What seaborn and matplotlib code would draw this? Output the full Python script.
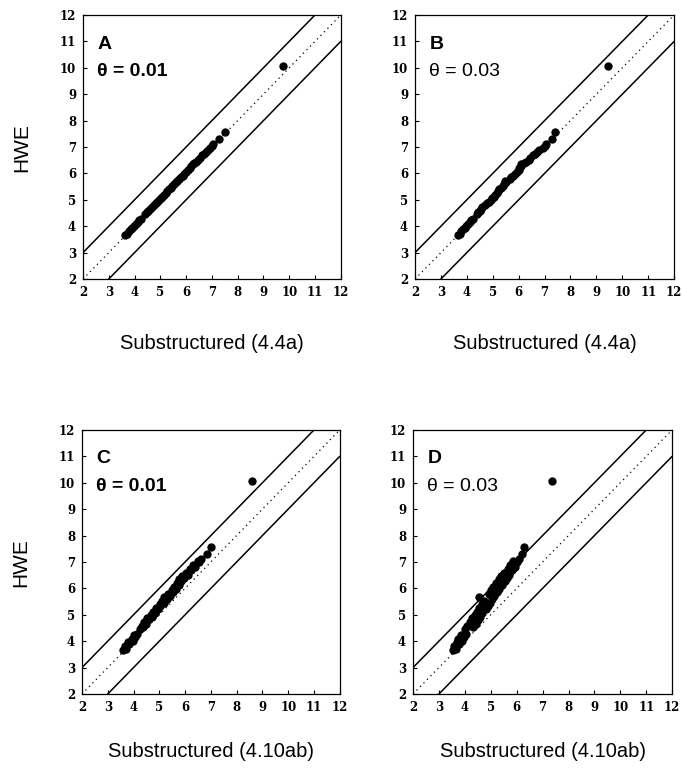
"""
HWE vs substructured estimates - four panel comparison
"""
import numpy as np
import pandas as pd
import matplotlib
matplotlib.use("Agg")
import matplotlib.pyplot as plt
import seaborn as sns

# HWE values (same markers in all four panels)
hwe = [3.65, 3.72, 3.80, 3.88, 3.95, 4.02, 4.10, 4.15, 4.22, 4.28,
       4.45, 4.52, 4.58, 4.65, 4.72, 4.80, 4.86, 4.92, 5.00, 5.06,
       5.12, 5.20, 5.26, 5.32, 5.40, 5.46, 5.52, 5.60, 5.66, 5.72,
       5.78, 5.85, 5.92, 5.98, 6.05, 6.12, 6.20, 6.28, 6.35, 6.40,
       6.45, 6.52, 6.60, 6.68, 6.75, 6.82, 6.90, 6.98, 7.05, 7.10,
       7.30, 7.55, 10.05]

# substructured estimates, one list per panel
sub_a = [3.64, 3.70, 3.77, 3.85, 3.92, 3.99, 4.07, 4.12, 4.19, 4.25,
         4.42, 4.48, 4.54, 4.61, 4.68, 4.76, 4.82, 4.88, 4.96, 5.02,
         5.08, 5.16, 5.22, 5.27, 5.35, 5.41, 5.46, 5.52, 5.60, 5.66,
         5.73, 5.80, 5.87, 5.93, 6.00, 6.07, 6.14, 6.20, 6.26, 6.32,
         6.38, 6.46, 6.54, 6.62, 6.70, 6.77, 6.85, 6.93, 7.00, 7.06,
         7.28, 7.50, 9.75]
sub_b = [3.65, 3.72, 3.78, 3.86, 3.92, 3.98, 4.05, 4.12, 4.18, 4.22,
         4.38, 4.45, 4.50, 4.56, 4.60, 4.70, 4.76, 4.85, 4.92, 4.98,
         5.05, 5.08, 5.15, 5.22, 5.25, 5.32, 5.40, 5.42, 5.52, 5.48,
         5.65, 5.72, 5.80, 5.85, 5.95, 6.00, 6.02, 6.08, 6.10, 6.20,
         6.30, 6.38, 6.45, 6.55, 6.62, 6.70, 6.80, 6.92, 7.00, 7.05,
         7.30, 7.40, 9.45]
sub_c = [3.60, 3.70, 3.68, 3.82, 3.80, 3.96, 3.94, 4.06, 4.02, 4.14,
         4.25, 4.38, 4.32, 4.48, 4.42, 4.58, 4.52, 4.72, 4.66, 4.82,
         4.76, 4.94, 4.86, 5.02, 5.04, 5.20, 5.12, 5.30, 5.20, 5.40,
         5.34, 5.52, 5.48, 5.64, 5.58, 5.76, 5.70, 5.84, 5.78, 5.96,
         5.88, 6.10, 6.05, 6.22, 6.20, 6.38, 6.30, 6.52, 6.50, 6.62,
         6.85, 7.00, 8.60]
sub_d = [3.55, 3.66, 3.58, 3.78, 3.68, 3.88, 3.74, 3.95, 3.84, 4.05,
         4.00, 4.30, 4.08, 4.42, 4.18, 4.50, 4.28, 4.58, 4.38, 4.68,
         4.45, 4.80, 4.55, 4.88, 4.65, 4.98, 4.72, 5.05, 4.55, 5.12,
         4.92, 5.25, 5.00, 5.32, 5.10, 5.45, 5.20, 5.55, 5.30, 5.62,
         5.40, 5.72, 5.50, 5.82, 5.65, 5.92, 5.75, 6.02, 5.85, 6.10,
         6.22, 6.30, 7.35]

panel_letters = ["A", "B", "C", "D"]
thetas = ["0.01", "0.03", "0.01", "0.03"]
xlabels = ["Substructured (4.4a)", "Substructured (4.4a)",
           "Substructured (4.10ab)", "Substructured (4.10ab)"]
ticks = list(range(2, 13))
diag_x = [2, 12]
offsets = [1, 0, -1]   # y = x + 1, y = x, y = x - 1

sns.set_style("ticks")
plt.rcParams["font.family"] = ["Liberation Sans", "DejaVu Sans"]
plt.rcParams["text.color"] = "black"
plt.rcParams["axes.labelcolor"] = "black"
plt.rcParams["xtick.color"] = "black"
plt.rcParams["ytick.color"] = "black"

fig = plt.figure(figsize=(6.82, 7.68), dpi=100)
# [left, bottom, width, height] in figure fractions
boxes = [
    [0.1217, 0.6367, 0.378, 0.3438],
    [0.6085, 0.6367, 0.380, 0.3438],
    [0.1202, 0.0964, 0.378, 0.3438],
    [0.6056, 0.0964, 0.380, 0.3438],
]
xs = [sub_a, sub_b, sub_c, sub_d]
tick_font = dict(fontfamily="DejaVu Serif", fontweight="bold",
                 fontsize=8.5, color="black")

for i, box in enumerate(boxes):
    ax = fig.add_axes(box)
    df = pd.DataFrame({"sub": xs[i], "hwe": hwe})

    for off in offsets:
        ys = [v + off for v in diag_x]
        if off == 0:
            ax.plot(diag_x, ys, color="black", lw=0.9, ls=(0, (1, 3)))
        else:
            ax.plot(diag_x, ys, color="black", lw=1.1)

    sns.scatterplot(data=df, x="sub", y="hwe", ax=ax, color="black",
                    s=36, edgecolor="black", linewidth=0, legend=False,
                    zorder=3)

    ax.set_xlim(2, 12)
    ax.set_ylim(2, 12)
    ax.set_xticks(ticks, labels=[str(t) for t in ticks], **tick_font)
    ax.set_yticks(ticks, labels=[str(t) for t in ticks], **tick_font)
    ax.set_xlabel("")
    ax.set_ylabel("")
    ax.tick_params(direction="in", length=3, width=0.8, pad=5)
    for sp in ax.spines.values():
        sp.set_linewidth(0.9)
        sp.set_color("black")

    ax.text(2.55, 10.9, panel_letters[i], fontsize=14, fontweight="bold",
            va="center", ha="left")
    ax.text(2.55, 9.85, "\u03b8 = " + thetas[i], fontsize=14,
            fontweight="bold" if i % 2 == 0 else "normal",
            va="center", ha="left")

    cx = box[0] + box[2] / 2
    ly = 0.553 if i < 2 else 0.021
    fig.text(cx, ly, xlabels[i], fontsize=14.5, ha="center", va="center")

fig.text(0.032, 0.808, "HWE", fontsize=15, rotation=90,
         ha="center", va="center")
fig.text(0.030, 0.268, "HWE", fontsize=15, rotation=90,
         ha="center", va="center")

fig.savefig("out.png", dpi=100)
